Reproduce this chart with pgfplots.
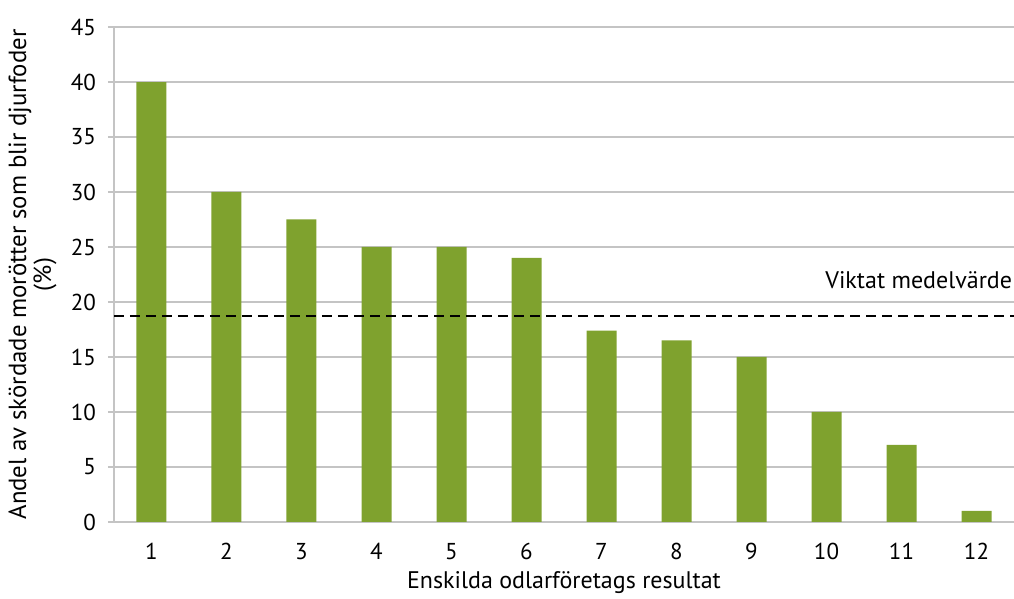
\documentclass[border=0pt]{standalone}
\usepackage{fontspec}
\setmainfont{PT Sans}
\usepackage{pgfplots}
\pgfplotsset{compat=1.18}
\definecolor{bargreen}{HTML}{7FA22E}
\definecolor{gridgray}{HTML}{C4C4C4}
\begin{document}
\begin{tikzpicture}
\begin{axis}[
  scale only axis,
  width=450pt, height=247.5pt,
  at={(0,0)}, anchor=south west,
  xmin=0.5, xmax=12.5,
  ymin=0, ymax=45,
  ytick={0,5,...,45},
  xtick={1,...,12},
  ymajorgrids,
  grid style={gridgray, line width=0.8pt},
  axis line style={gridgray, line width=0.8pt},
  axis x line*=bottom,
  axis y line*=left,
  x axis line style={-},
  y axis line style={-},
  major tick length=3pt,
  ytick style={gridgray, line width=0.8pt},
  xtick style={draw=none},
  tick align=outside,
  /pgf/number format/assume math mode=true,
  tick label style={font=\fontsize{11.5}{13}\selectfont, text=black},
  yticklabel style={xshift=-2.5pt},
  xticklabel style={yshift=-4pt},
  xlabel={Enskilda odlarföretags resultat},
  ylabel={Andel av skördade morötter som blir djurfoder\\(\%)},
  xlabel style={font=\fontsize{12}{14}\selectfont, at={(axis description cs:0.5,0)}, anchor=center, yshift=-30.5pt},
  ylabel style={font=\fontsize{12.4}{12.5}\selectfont, at={(axis description cs:-0.0905,0.5)}, anchor=center, align=center},
  clip=false,
]
\addplot[ybar, bar width=15pt, fill=bargreen, draw=none] coordinates {
  (1,40) (2,30) (3,27.5) (4,25) (5,25) (6,24)
  (7,17.4) (8,16.5) (9,15) (10,10) (11,7) (12,1)
};
\addplot[black, line width=1pt, dash pattern=on 5pt off 3pt, forget plot]
  coordinates {(0.5,18.75) (12.5,18.75)};
\node[anchor=east, font=\fontsize{12}{14}\selectfont, inner sep=0pt]
  at (axis cs:12.48,22) {Viktat medelvärde};
\end{axis}
\pgfresetboundingbox
\useasboundingbox (-57pt,-38.5pt) rectangle (450pt,261pt);
\end{tikzpicture}
\end{document}
